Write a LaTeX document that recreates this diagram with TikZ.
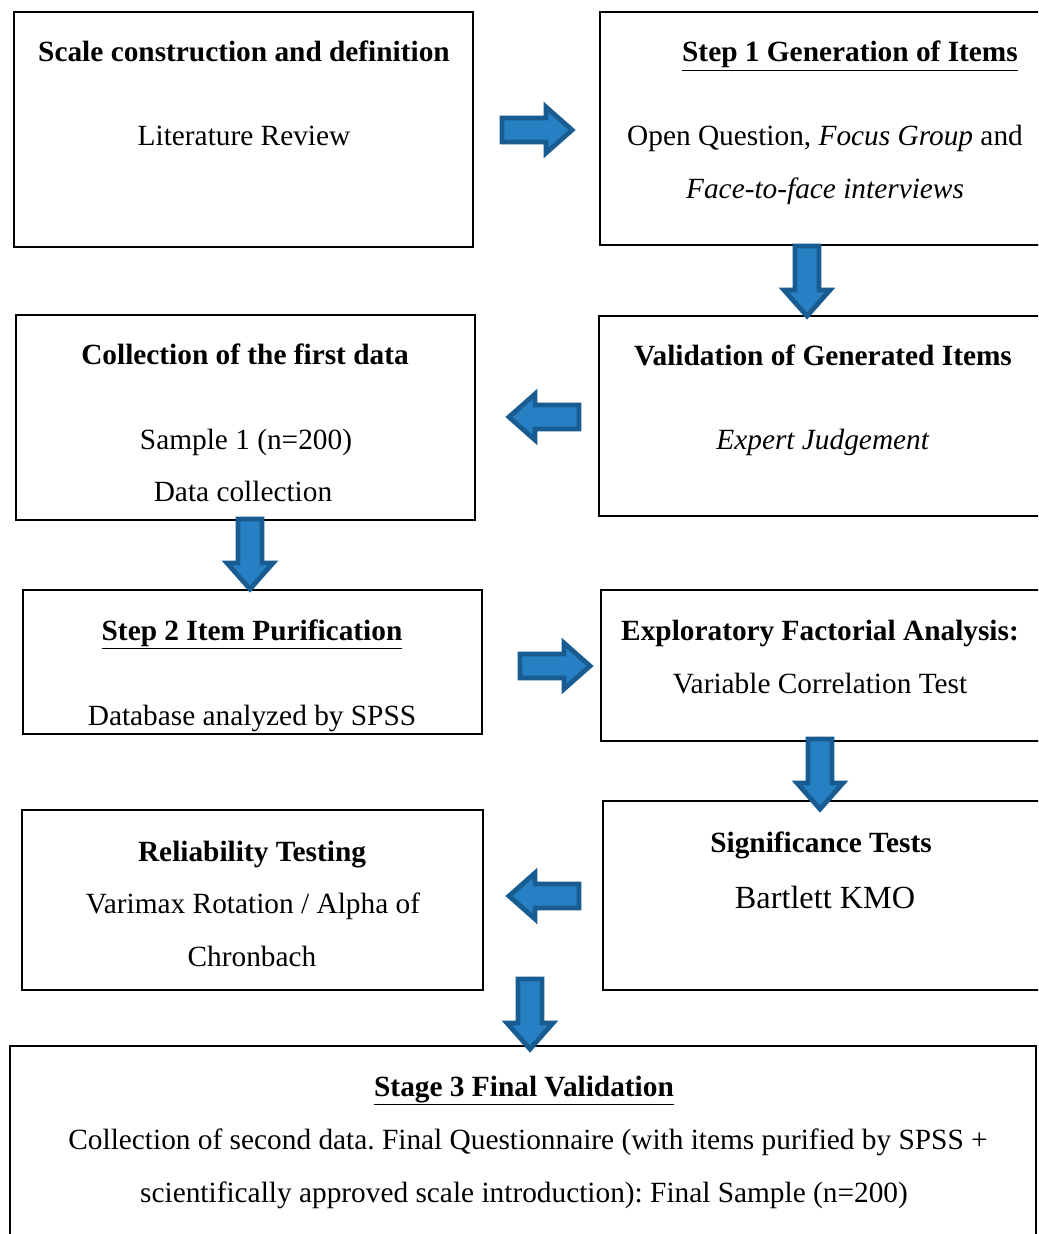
\documentclass[tikz,border=0pt]{standalone}
\usepackage{fontspec}
\setmainfont{Liberation Serif}
\frenchspacing
\begin{document}
\begin{tikzpicture}[x=0.75pt,y=-0.75pt,
  box/.style={draw=black,line width=1.3pt},
  txt/.style={font=\fontsize{22pt}{26pt}\selectfont,inner sep=0pt,anchor=base},
  ttl/.style={txt,font=\fontsize{22pt}{26pt}\selectfont\bfseries},
  arrowfill/.style={fill={rgb,255:red,40;green,128;blue,196},draw={rgb,255:red,25;green,92;blue,145},line width=3.6pt,line join=miter},
  pics/blockarrow/.style={code={
    \draw[arrowfill] (-35,-12) -- (9,-12) -- (9,-23) -- (35,0) -- (9,23) -- (9,12) -- (-35,12) -- cycle;}}
]
\useasboundingbox (0,0) rectangle (1038,1234);
\begin{scope}
\clip (0,0) rectangle (1038,1234);

% frames
\draw[box] (14,12) rectangle (473,247);
\draw[box] (600,12) rectangle (1050,245);
\draw[box] (16,315) rectangle (475,520);
\draw[box] (599,316) rectangle (1050,516);
\draw[box] (23,590) rectangle (482,734);
\draw[box] (601,590) rectangle (1050,741);
\draw[box] (22,810) rectangle (483,990);
\draw[box] (603,801) rectangle (1050,990);
\draw[box] (10,1046) rectangle (1036,1250);

% block arrows
\pic at (537,130) {blockarrow};
\pic[rotate=-90] at (807,281) {blockarrow};
\pic[rotate=180] at (544,417) {blockarrow};
\pic[rotate=-90] at (250,554) {blockarrow};
\pic at (555,666) {blockarrow};
\pic[rotate=-90] at (820,774) {blockarrow};
\pic[rotate=180] at (544,896) {blockarrow};
\pic[rotate=-90] at (530,1014) {blockarrow};

% texts
\node[ttl] (t1) at (244,62) {Scale construction and definition};
\node[txt] (t1a) at (244,146) {Literature Review};

\node[ttl] (t2) at (850,62) {\underline{Step 1 Generation of Items}};
\node[txt] (t2a) at (825,146) {Open Question, \textit{Focus Group} and};
\node[txt] (t2b) at (825,199) {\textit{Face-to-face interviews}};

\node[ttl] (t3) at (245,364) {Collection of the first data};
\node[txt] (t3a) at (246,449) {Sample 1 (n=200)};
\node[txt] (t3b) at (243,501) {Data collection};

\node[ttl] (t4) at (823,365) {Validation of Generated Items};
\node[txt] (t4a) at (823,449) {\textit{Expert Judgement}};

\node[ttl] (t5) at (252,640) {\underline{Step 2 Item Purification}};
\node[txt] (t5a) at (252,725) {Database analyzed by SPSS};

\node[ttl] (t6) at (820,640) {Exploratory Factorial Analysis:};
\node[txt] (t6a) at (820,693) {Variable Correlation Test};

\node[ttl] (t7) at (252,861) {Reliability Testing};
\node[txt] (t7a) at (253,913) {Varimax Rotation / Alpha of};
\node[txt] (t7b) at (252,966) {Chronbach};

\node[ttl] (t8) at (821,852) {Significance Tests};
\node[txt,font=\fontsize{24.2pt}{28pt}\selectfont] (t8a) at (825,908) {Bartlett KMO};

\node[ttl] (t9) at (524,1096) {\underline{Stage 3 Final Validation}};
\node[txt] (t9a) at (528,1149) {Collection of second data. Final Questionnaire (with items purified by SPSS +};
\node[txt] (t9b) at (524,1202) {scientifically approved scale introduction): Final Sample (n=200)};
\end{scope}
\end{tikzpicture}
\end{document}
